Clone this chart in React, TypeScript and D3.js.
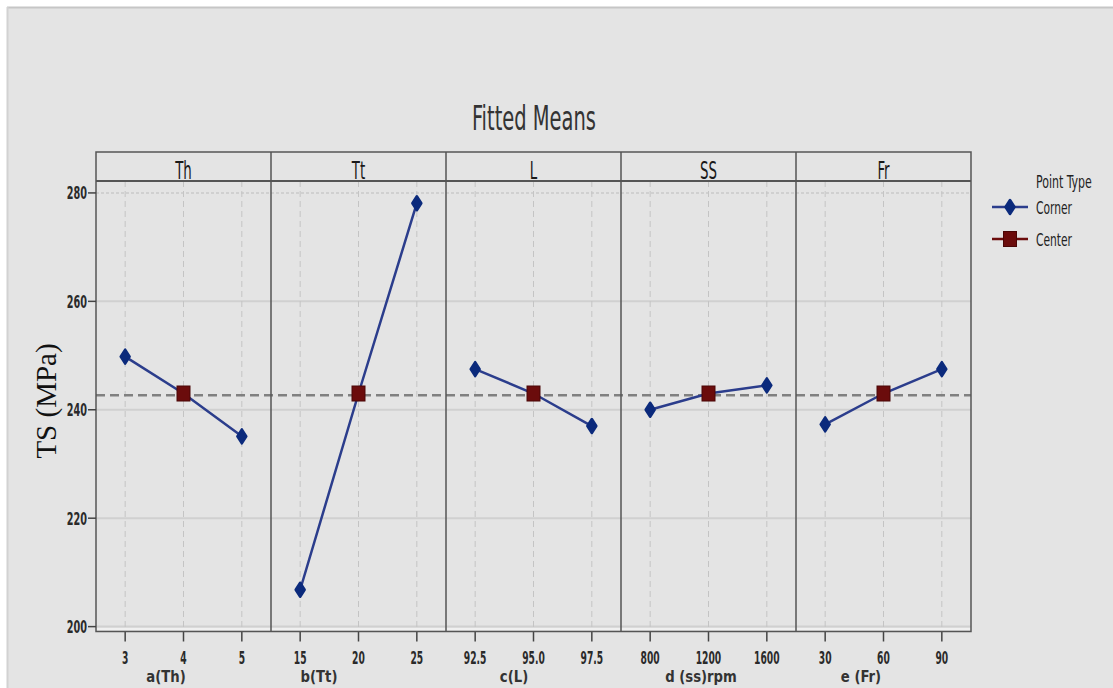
import React from 'react';
import * as d3 from 'd3';

// factor panels
const factors = ['Th', 'Tt', 'L', 'SS', 'Fr'];
const axisTitles = ['a(Th)', 'b(Tt)', 'c(L)', 'd (ss)rpm', 'e (Fr)'];
const levels = [
  ['3', '4', '5'],
  ['15', '20', '25'],
  ['92.5', '95.0', '97.5'],
  ['800', '1200', '1600'],
  ['30', '60', '90'],
];

// fitted means per level (low, center, high)
const thMeans = [249.8, 243.0, 235.1];
const ttMeans = [206.8, 243.0, 278.1];
const lMeans = [247.5, 243.0, 237.0];
const ssMeans = [240.0, 243.0, 244.5];
const frMeans = [237.3, 243.0, 247.5];
const means = [thMeans, ttMeans, lMeans, ssMeans, frMeans];
const pointTypes = ['Corner', 'Center', 'Corner'];

const grandMean = 242.7;
const yTicks = [200, 220, 240, 260, 280];

const W = 1113;
const H = 688;
const left = 96;
const right = 971;
const stripTop = 152;
const plotTop = 181;
const plotBottom = 631.5;
const titleShift = [-17.5, -39.5, -19.5, -7.5, -22.5];

const cond = '"DejaVu Sans Condensed", "DejaVu Sans", sans-serif';
const lineBlue = '#2b3d8c';
const dotBlue = '#0b2a7c';
const sqRed = '#6b0c0c';

function Squeezed({x, y, text, size, sx, anchor = 'middle', weight = 'normal', fill = '#222'}) {
  return (
    <text
      transform={`translate(${x},${y}) scale(${sx},1)`}
      fontFamily={cond}
      fontSize={size}
      fontWeight={weight}
      textAnchor={anchor}
      fill={fill}
    >
      {text}
    </text>
  );
}

function Diamond({x, y}) {
  return <path d={`M${x},${y - 7} L${x + 4.5},${y} L${x},${y + 7} L${x - 4.5},${y} Z`}
    fill={dotBlue} stroke={dotBlue} strokeWidth={2.5} strokeLinejoin="round" />;
}

function Square({x, y}) {
  return <rect x={x - 6.5} y={y - 7.5} width={13} height={15} fill={sqRed} stroke="#4a0606" strokeWidth={1} />;
}

export default function App() {
  const panel = d3.scaleBand<number>().domain(d3.range(factors.length)).range([left, right]);
  const y = d3.scaleLinear().domain([199.1, 282.2]).range([plotBottom, plotTop]);

  const line = d3.line<[number, number]>().x(d => d[0]).y(d => d[1]);

  return (
    <div style={{position: 'absolute', left: 0, top: 0}}>
      <svg width={W} height={H} style={{display: 'block'}}>
        <rect width={W} height={H} fill="#fff" />
        <rect x={7} y={7} width={W - 7} height={H - 7} fill="#e4e4e4" />
        <line x1={7} x2={W} y1={7.5} y2={7.5} stroke="#c6c6c6" strokeWidth={2} />
        <line x1={7.5} x2={7.5} y1={7} y2={H} stroke="#d2d2d2" strokeWidth={2} />

        <text x={534} y={130} fontFamily={cond} fontSize={33} fill="#333" textAnchor="middle"
          textLength={124} lengthAdjust="spacingAndGlyphs">Fitted Means</text>

        {/* horizontal grid */}
        {yTicks.map(t => (
          <line key={t} x1={left} x2={right} y1={y(t)} y2={y(t)} stroke="#d0d0d0" strokeWidth={2}
            strokeDasharray={t === 280 ? '3,2' : undefined} />
        ))}
        <line x1={left} x2={right} y1={629} y2={629} stroke="#f4f4f4" strokeWidth={1.5} />

        {factors.map((f, i) => {
          const x0 = panel(i);
          const x = d3.scalePoint().domain(levels[i]).range([x0, x0 + panel.bandwidth()]).padding(0.5);
          return (
            <g key={f}>
              {levels[i].map(lv => (
                <g key={lv}>
                  <line x1={x(lv)} x2={x(lv)} y1={plotTop} y2={plotBottom} stroke="#c4c4c4"
                    strokeWidth={1} strokeDasharray="6,4" />
                  <line x1={x(lv)} x2={x(lv)} y1={plotBottom} y2={plotBottom + 10} stroke="#444" strokeWidth={1.5} />
                  <Squeezed x={x(lv)} y={664} text={lv} size={17} sx={0.6} weight="bold" fill="#2a2a2a" />
                </g>
              ))}
              <Squeezed x={x0 + panel.bandwidth() / 2 + titleShift[i]} y={682} text={axisTitles[i]}
                size={15} sx={0.98} weight="bold" fill="#333" />
              <Squeezed x={x0 + panel.bandwidth() / 2} y={179} text={f} size={24} sx={0.62} fill="#1a1a1a" />
            </g>
          );
        })}

        {/* grand mean reference */}
        <line x1={left} x2={right} y1={y(grandMean)} y2={y(grandMean)} stroke="#808080"
          strokeWidth={2.5} strokeDasharray="9,5" />

        {factors.map((f, i) => {
          const x0 = panel(i);
          const x = d3.scalePoint().domain(levels[i]).range([x0, x0 + panel.bandwidth()]).padding(0.5);
          const pts: [number, number][] = levels[i].map((lv, j) => [x(lv), y(means[i][j])]);
          return (
            <g key={'s' + f}>
              <path d={line(pts)} fill="none" stroke={lineBlue} strokeWidth={2.5} />
              {pts.map((p, j) => pointTypes[j] === 'Corner'
                ? <Diamond key={j} x={p[0]} y={p[1]} />
                : <Square key={j} x={p[0]} y={p[1]} />)}
            </g>
          );
        })}

        {/* frames */}
        <rect x={left} y={stripTop} width={right - left} height={plotBottom - stripTop} fill="none"
          stroke="#555" strokeWidth={1.5} />
        <line x1={left} x2={right} y1={plotTop} y2={plotTop} stroke="#555" strokeWidth={2} />
        {d3.range(1, factors.length).map(i => (
          <line key={i} x1={panel(i)} x2={panel(i)} y1={stripTop} y2={plotBottom} stroke="#555" strokeWidth={1.5} />
        ))}

        {/* y axis */}
        {yTicks.map(t => (
          <g key={'y' + t}>
            <line x1={left - 8} x2={left} y1={y(t)} y2={y(t)} stroke="#444" strokeWidth={1.5} />
            <Squeezed x={left - 9} y={y(t) + 6.5} text={String(t)} size={18} sx={0.6} anchor="end"
              weight="bold" fill="#2a2a2a" />
          </g>
        ))}
        <text transform="translate(56,401) rotate(-90)" fontFamily='"Liberation Serif", serif' fontSize={29}
          fill="#111" textAnchor="middle">TS (MPa)</text>

        {/* legend */}
        <Squeezed x={1036} y={188} text="Point Type" size={17} sx={0.72} anchor="start" fill="#222" />
        <line x1={992} x2={1028} y1={207} y2={207} stroke={lineBlue} strokeWidth={2.5} />
        <Diamond x={1010} y={207} />
        <Squeezed x={1036} y={214} text="Corner" size={17} sx={0.7} anchor="start" fill="#222" />
        <line x1={992} x2={1028} y1={239} y2={239} stroke={sqRed} strokeWidth={2.5} />
        <Square x={1010} y={239} />
        <Squeezed x={1036} y={246} text="Center" size={17} sx={0.7} anchor="start" fill="#222" />
      </svg>
    </div>
  );
}
